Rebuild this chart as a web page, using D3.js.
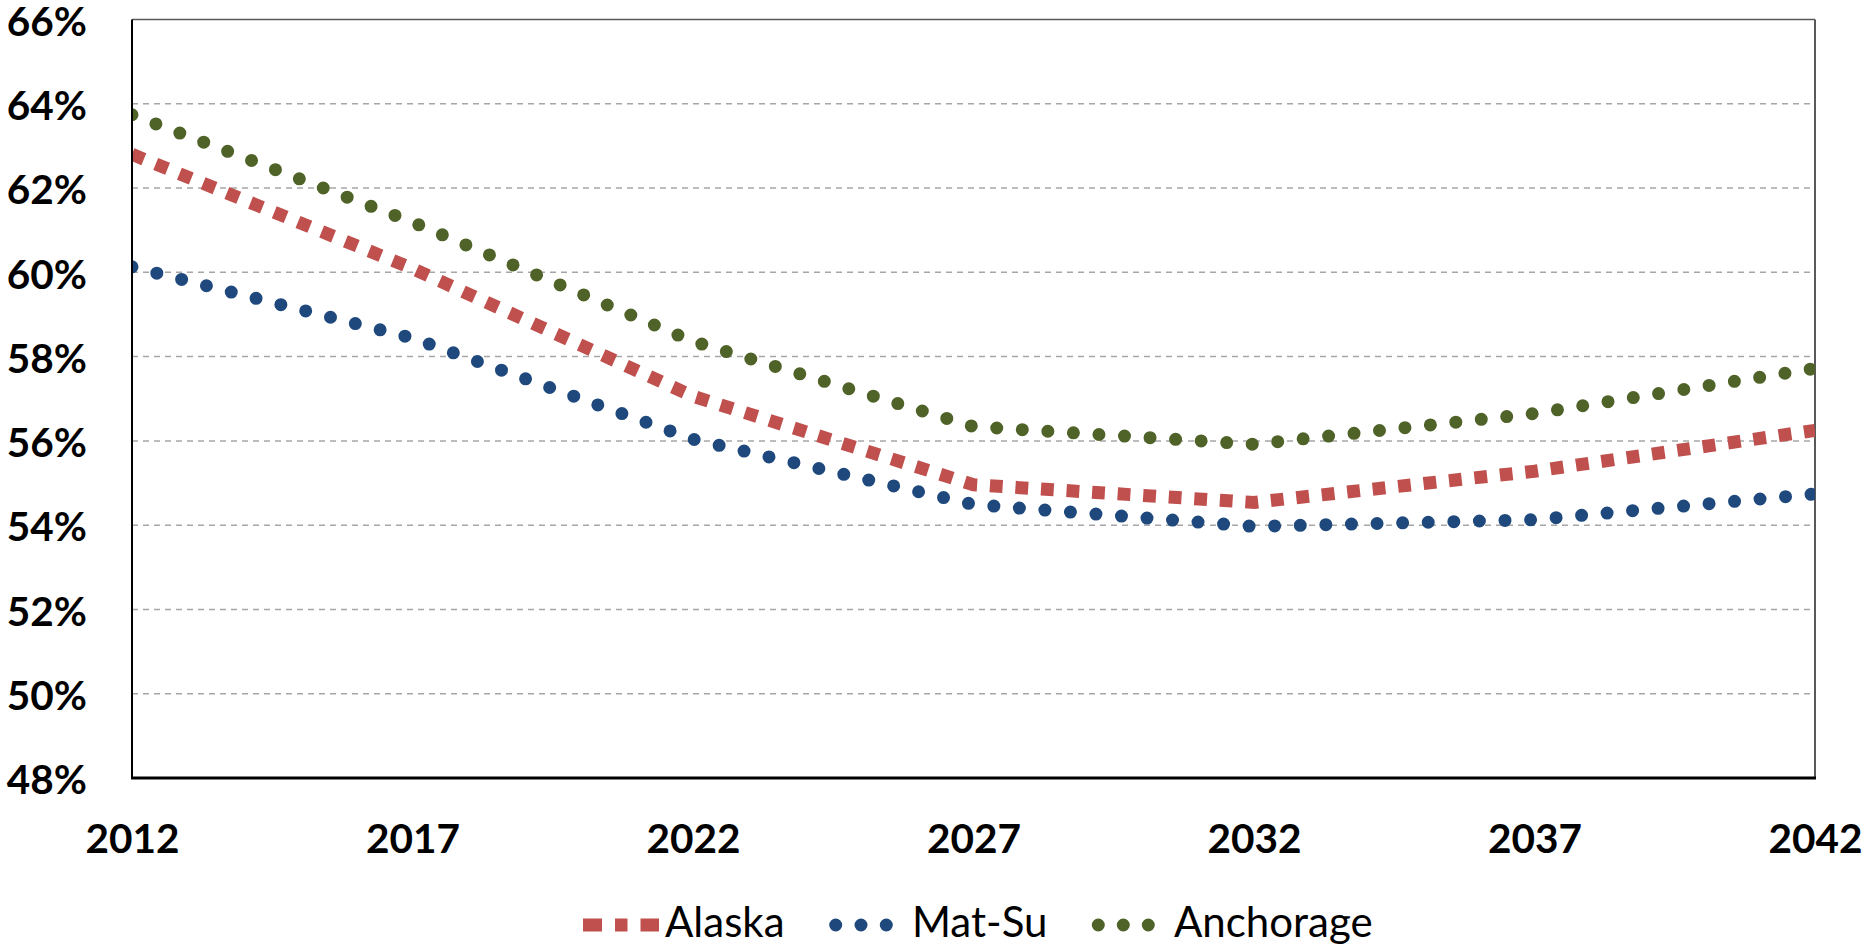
<!DOCTYPE html>
<html>
<head>
<meta charset="utf-8">
<script src="https://cdn.jsdelivr.net/npm/d3@7"></script>
<style>
  html, body { margin: 0; padding: 0; background: #ffffff; }
  svg { display: block; }
  .tick-label { font-family: Lato, "Open Sans", sans-serif; font-weight: 700; font-size: 40.5px; fill: #000; }
  .legend-label { font-family: Lato, "Open Sans", sans-serif; font-weight: 400; font-size: 42px; fill: #000; }
</style>
</head>
<body>
<svg id="chart" width="1866" height="947"></svg>
<script>
// Projected share of population, by area (percent)
const years = ["2012", "2017", "2022", "2027", "2032", "2037", "2042"];
const alaska = [62.80, 60.09, 57.06, 54.96, 54.54, 55.28, 56.25];
const matSu = [60.13, 58.44, 56.04, 54.49, 53.97, 54.13, 54.74];
const anchorage = [63.74, 61.19, 58.36, 56.34, 55.92, 56.65, 57.72];

const seriesNames = ["Alaska", "Mat-Su", "Anchorage"];
const yTicks = [48, 50, 52, 54, 56, 58, 60, 62, 64, 66];

const svg = d3.select("#chart");
const plot = { left: 132, right: 1815, top: 19.5, bottom: 778 };

const x = d3.scalePoint().domain(years).range([plot.left, plot.right]).padding(0);
const y = d3.scaleLinear().domain([48, 66]).range([plot.bottom, plot.top]);

// dashed horizontal gridlines
svg.append("g")
  .selectAll("line")
  .data(yTicks.filter(t => t > 48 && t < 66))
  .join("line")
  .attr("x1", plot.left).attr("x2", plot.right)
  .attr("y1", d => y(d)).attr("y2", d => y(d))
  .attr("stroke", "#a6a6a6")
  .attr("stroke-width", 1.5)
  .attr("stroke-dasharray", "6,5");

// plot-area frame (top and right)
svg.append("line")
  .attr("x1", plot.left).attr("x2", plot.right)
  .attr("y1", y(66)).attr("y2", y(66))
  .attr("stroke", "#595959").attr("stroke-width", 1.5);
svg.append("line")
  .attr("x1", plot.right).attr("x2", plot.right)
  .attr("y1", y(66)).attr("y2", plot.bottom)
  .attr("stroke", "#595959").attr("stroke-width", 2);

// series lines, clipped to the plot area
svg.append("defs").append("clipPath").attr("id", "plot-clip")
  .append("rect")
  .attr("x", plot.left).attr("y", plot.top)
  .attr("width", plot.right - plot.left).attr("height", plot.bottom - plot.top);

const series = [
  { name: seriesNames[0], values: alaska, color: "#C0504D", width: 13, dash: "12.8,12.8", cap: "butt" },
  { name: seriesNames[1], values: matSu, color: "#1F497D", width: 13, dash: "0,25.6", cap: "round" },
  { name: seriesNames[2], values: anchorage, color: "#4F6228", width: 13, dash: "0,25.6", cap: "round" }
];

const line = d3.line()
  .x((d, i) => x(years[i]))
  .y(d => y(d));

svg.append("g")
  .attr("clip-path", "url(#plot-clip)")
  .selectAll("path")
  .data(series)
  .join("path")
  .attr("d", d => line(d.values))
  .attr("fill", "none")
  .attr("stroke", d => d.color)
  .attr("stroke-width", d => d.width)
  .attr("stroke-dasharray", d => d.dash)
  .attr("stroke-linecap", d => d.cap);

// axis lines
svg.append("line")
  .attr("x1", plot.left).attr("x2", plot.left)
  .attr("y1", y(66)).attr("y2", plot.bottom)
  .attr("stroke", "#000").attr("stroke-width", 2);
svg.append("line")
  .attr("x1", plot.left - 1).attr("x2", plot.right + 1)
  .attr("y1", plot.bottom).attr("y2", plot.bottom)
  .attr("stroke", "#000").attr("stroke-width", 3);

// y axis labels
const yAxis = d3.axisLeft(y).tickValues(yTicks).tickFormat(d => d + "%").tickSize(0).tickPadding(0);
const gy = svg.append("g").attr("transform", "translate(87,0)").call(yAxis);
gy.select(".domain").remove();
gy.selectAll("text")
  .attr("class", "tick-label")
  .attr("x", 0)
  .attr("dy", "0.39em")
  .attr("text-anchor", "end")
  .attr("font-family", null).attr("font-size", null);

// x axis labels
const xAxis = d3.axisBottom(x).tickSize(0).tickPadding(0);
const gx = svg.append("g").call(xAxis);
gx.select(".domain").remove();
gx.selectAll("text")
  .attr("class", "tick-label")
  .attr("y", 853)
  .attr("dy", 0)
  .attr("text-anchor", "middle")
  .attr("font-family", null).attr("font-size", null);

// legend
const legendY = 925;
const legendItems = [
  { name: seriesNames[0], x1: 583, x2: 659, color: "#C0504D", width: 13, dash: "19,13,12.5,13,19", cap: "butt", tx: 665 },
  { name: seriesNames[1], x1: 835.7, x2: 887.5, color: "#1F497D", width: 13, dash: "0,25.3", cap: "round", tx: 912 },
  { name: seriesNames[2], x1: 1098.3, x2: 1149.5, color: "#4F6228", width: 13, dash: "0,25", cap: "round", tx: 1174 }
];
const lg = svg.append("g");
lg.selectAll("line")
  .data(legendItems)
  .join("line")
  .attr("x1", d => d.x1).attr("x2", d => d.x2)
  .attr("y1", legendY).attr("y2", legendY)
  .attr("stroke", d => d.color)
  .attr("stroke-width", d => d.width)
  .attr("stroke-dasharray", d => d.dash)
  .attr("stroke-linecap", d => d.cap);
lg.selectAll("text")
  .data(legendItems)
  .join("text")
  .attr("class", "legend-label")
  .attr("x", d => d.tx)
  .attr("y", 937)
  .text(d => d.name);
</script>
</body>
</html>
